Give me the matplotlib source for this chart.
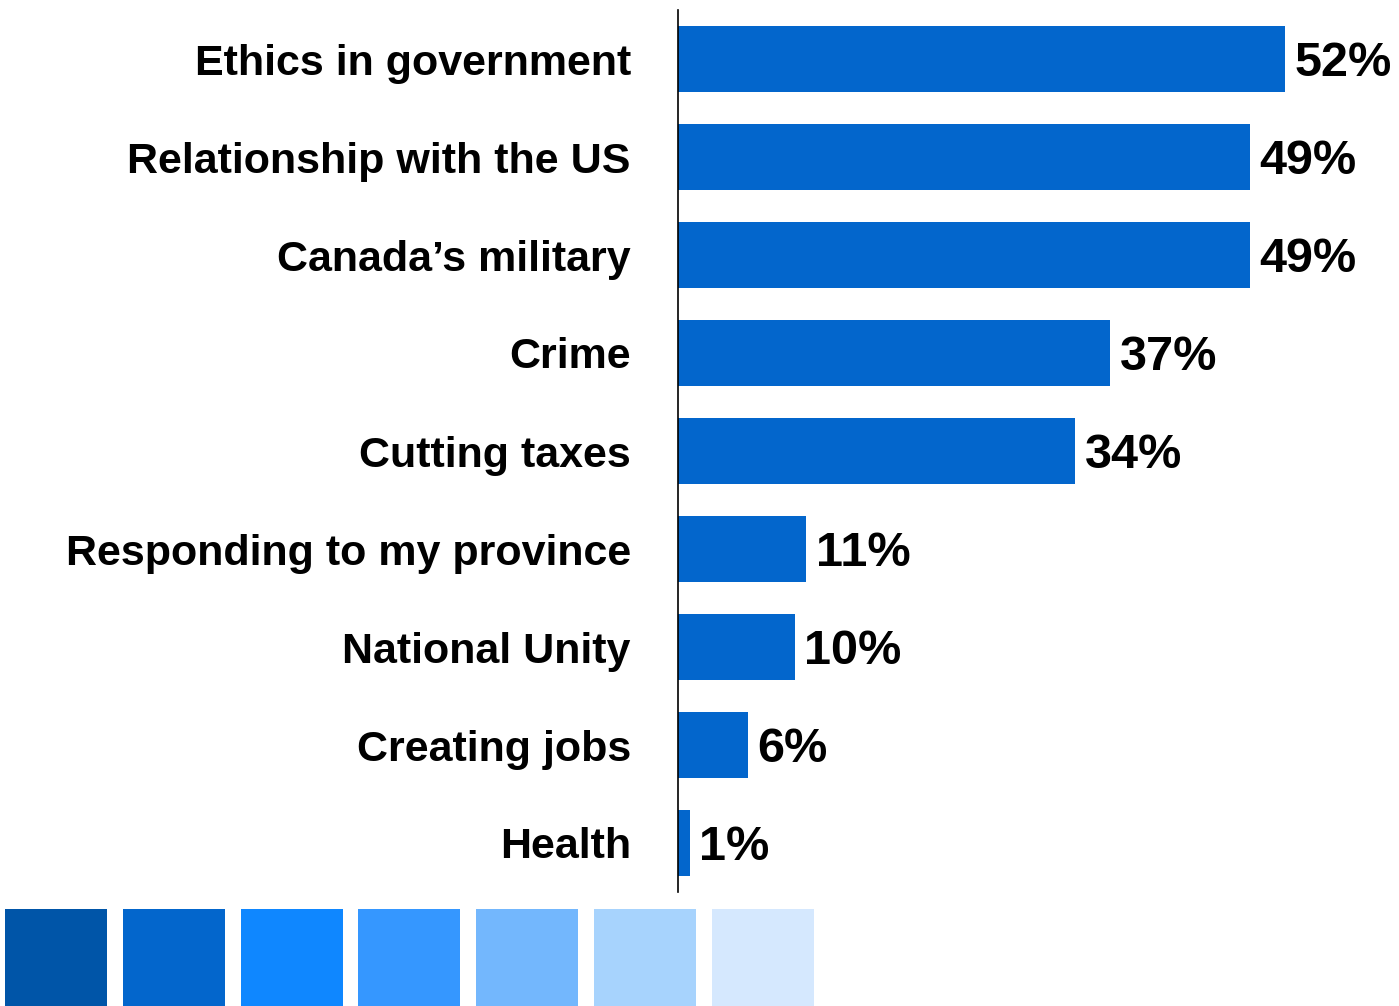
import matplotlib.pyplot as plt

plt.rcParams['font.family'] = ['Liberation Sans', 'DejaVu Sans']

issues = ['Ethics in government', 'Relationship with the US', 'Canada\u2019s military',
          'Crime', 'Cutting taxes', 'Responding to my province', 'National Unity',
          'Creating jobs', 'Health']
shares = [52, 49, 49, 37, 34, 11, 10, 6, 1]

palette = ['#0055A8', '#0366CC', '#0F87FF', '#3597FF', '#73B7FD', '#A7D3FD', '#D5E8FE']
bar_color = '#0366CC'

W, H = 1399, 1006
fig = plt.figure(figsize=(W / 100, H / 100), dpi=100)

# main bar chart
ax = fig.add_axes([678 / W, 1 - 892 / H, (W - 678) / W, 882 / H])
pos = list(range(len(issues)))
ax.barh(pos, shares, height=0.67, color=bar_color)
ax.set_ylim(len(issues) - 0.5, -0.5)
ax.set_xlim(0, (W - 678) / 11.67)
ax.set_yticks(pos)
ax.set_yticklabels(issues, fontsize=31, fontweight='bold')
ax.tick_params(axis='y', length=0, pad=34)
ax.set_xticks([])
for s in ['top', 'right', 'bottom']:
    ax.spines[s].set_visible(False)
ax.spines['left'].set_linewidth(1.2)
ax.spines['left'].set_color('black')

for p, v in zip(pos, shares):
    ax.annotate('{}%'.format(v), (v, p), xytext=(7, 0), textcoords='offset points',
                va='center_baseline', ha='left', fontsize=35, fontweight='bold')

# colour swatches along the bottom
pitch = 117.8
ax2 = fig.add_axes([-3 / W, 0, 7 * pitch / W, 97 / H])
ax2.bar(range(len(palette)), [1] * len(palette), width=102 / pitch, color=palette)
ax2.set_xlim(-0.5, len(palette) - 0.5)
ax2.set_ylim(0, 1)
ax2.axis('off')

fig.savefig('out.png', dpi=100)
